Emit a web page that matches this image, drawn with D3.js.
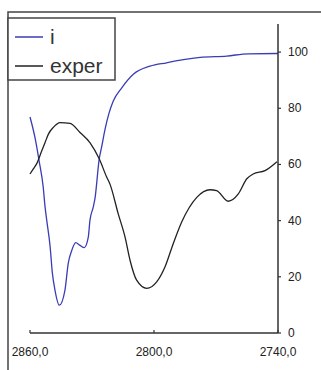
<!DOCTYPE html>
<html>
  <head>
    <meta charset="utf-8">
    <title>i vs exper</title>
    <script src="https://d3js.org/d3.v7.min.js"></script>
    <style>
      body { margin: 0; background: #fff; }
      #chart { width: 321px; height: 370px; display: block; }
      .tickLabel { font-family: "Liberation Sans", Arial, sans-serif; font-size: 12px; fill: #222; }
      .legendLabel { font-family: "Liberation Sans", Arial, sans-serif; font-size: 21px; fill: #333; }
    </style>
  </head>
  <body>
    <svg id="chart"></svg>
    <script>
      // values
      iWavenumber = [2860, 2857.6, 2855.6, 2853.6, 2852.7, 2851.9, 2850.3, 2849.2, 2847.9, 2845.8,
        2843.1, 2841.5, 2839.8, 2837.9, 2835.8, 2833.7, 2831.8, 2831.0, 2829.4, 2828.5,
        2826.5, 2825.4, 2823.7, 2821.8, 2819.7, 2815.6, 2810.0, 2801.9, 2793.9, 2785.8,
        2777.7, 2764.8, 2754.4, 2740];
      iValue = [76.9, 69.6, 61.3, 51.9, 44.8, 40.1, 31.0, 21.5, 15.2, 9.9,
        15.2, 24.8, 29.4, 32.2, 31.2, 30.4, 34.1, 40.1, 44.8, 48.2,
        62.0, 66.0, 72.5, 78.2, 82.6, 87.3, 92.1, 95.0, 96.2, 97.3,
        98.1, 98.6, 99.4, 99.5];
      experWavenumber = [2860, 2858.4, 2856.8, 2854.3, 2852.7, 2851.1, 2848.7, 2845.5, 2840.6, 2835.8,
        2831.0, 2826.5, 2822.9, 2821.3, 2817.3, 2814.0, 2811.6, 2808.4, 2803.5, 2798.7,
        2794.7, 2790.7, 2786.6, 2779.3, 2772.9, 2769.7, 2764.1, 2759.2, 2755.1, 2752.0,
        2746.3, 2740.5];
      experValue = [56.6, 58.4, 60.2, 64.9, 67.8, 70.8, 73.2, 74.9, 74.6, 71.4,
        67.8, 62.0, 55.5, 53.0, 42.4, 34.1, 25.9, 18.8, 15.9, 18.2,
        23.5, 31.8, 39.5, 48.3, 51.0, 50.7, 46.9, 49.5, 54.9, 56.6,
        57.8, 61.0];
      seriesNames = ["i", "exper"];
      seriesColors = ["#3a3cb4", "#222222"];
      xTicks = [2860, 2800, 2740];
      yTicks = [0, 20, 40, 60, 80, 100];

      chart = d3.select("#chart");
      x = d3.scaleLinear()
        .domain([2860, 2740])
        .range([30, 278]);
      y = d3.scaleLinear()
        .domain([0, 110])
        .range([333, 24]);

      // outer frame (cut off at right and bottom)
      chart.append("path")
        .attr("d", "M8,370V12H321")
        .attr("fill", "none")
        .attr("stroke", "#444")
        .attr("stroke-width", 1.5);

      series = [
        d3.zip(iWavenumber, iValue),
        d3.zip(experWavenumber, experValue)
      ];
      line = d3.line()
        .x(function(d) { return x(d[0]); })
        .y(function(d) { return y(d[1]); })
        .curve(d3.curveMonotoneX);
      chart.selectAll(".plot")
          .data(series)
        .enter().append("path")
          .classed("plot", true)
          .attr("d", line)
          .attr("fill", "none")
          .attr("stroke", function(d, i) { return seriesColors[i]; })
          .attr("stroke-width", 1.3);

      // x axis
      xAxisGroup = chart.append("g")
        .attr("transform", "translate(0, " + y(0) + ")");
      xAxisGroup.append("line")
        .attr("x1", x(2860))
        .attr("x2", x(2740))
        .attr("stroke", "#333")
        .attr("stroke-width", 1.5);
      xAxisGroup.selectAll(".tick")
          .data(xTicks)
        .enter().append("line")
          .attr("x1", function(d) { return x(d); })
          .attr("x2", function(d) { return x(d); })
          .attr("y1", -3)
          .attr("y2", 0)
          .attr("stroke", "#333")
          .attr("stroke-width", 1.2);
      xAxisGroup.selectAll(".tickLabel")
          .data(xTicks)
        .enter().append("text")
          .classed("tickLabel", true)
          .attr("x", function(d) { return x(d); })
          .attr("y", 23)
          .attr("text-anchor", "middle")
          .text(function(d) { return d3.format(".1f")(d).replace(".", ","); });

      // y axis on the right
      yAxisGroup = chart.append("g")
        .attr("transform", "translate(" + x(2740) + ", 0)");
      yAxisGroup.append("line")
        .attr("y1", y(0))
        .attr("y2", y(110))
        .attr("stroke", "#333")
        .attr("stroke-width", 1.5);
      yAxisGroup.selectAll(".tick")
          .data(yTicks)
        .enter().append("line")
          .attr("x1", 0)
          .attr("x2", 3)
          .attr("y1", function(d) { return y(d); })
          .attr("y2", function(d) { return y(d); })
          .attr("stroke", "#333")
          .attr("stroke-width", 1.2);
      yAxisGroup.selectAll(".tickLabel")
          .data(yTicks)
        .enter().append("text")
          .classed("tickLabel", true)
          .attr("x", 10)
          .attr("y", function(d) { return y(d) + 4; })
          .text(function(d) { return d; });

      // legend
      legend = chart.append("g");
      legend.append("rect")
        .attr("x", 8)
        .attr("y", 18)
        .attr("width", 107)
        .attr("height", 62)
        .attr("fill", "#fff")
        .attr("stroke", "#444")
        .attr("stroke-width", 1.5);
      entries = legend.selectAll(".entry")
          .data(seriesNames)
        .enter().append("g")
          .classed("entry", true)
          .attr("transform", function(d, i) { return "translate(0, " + (37 + i * 29) + ")"; });
      entries.append("line")
        .attr("x1", 15)
        .attr("x2", 43)
        .attr("stroke", function(d, i) { return seriesColors[i]; })
        .attr("stroke-width", 1.5);
      entries.append("text")
        .classed("legendLabel", true)
        .attr("x", 50)
        .attr("y", 7)
        .text(function(d) { return d; });
    </script>
  </body>
</html>
